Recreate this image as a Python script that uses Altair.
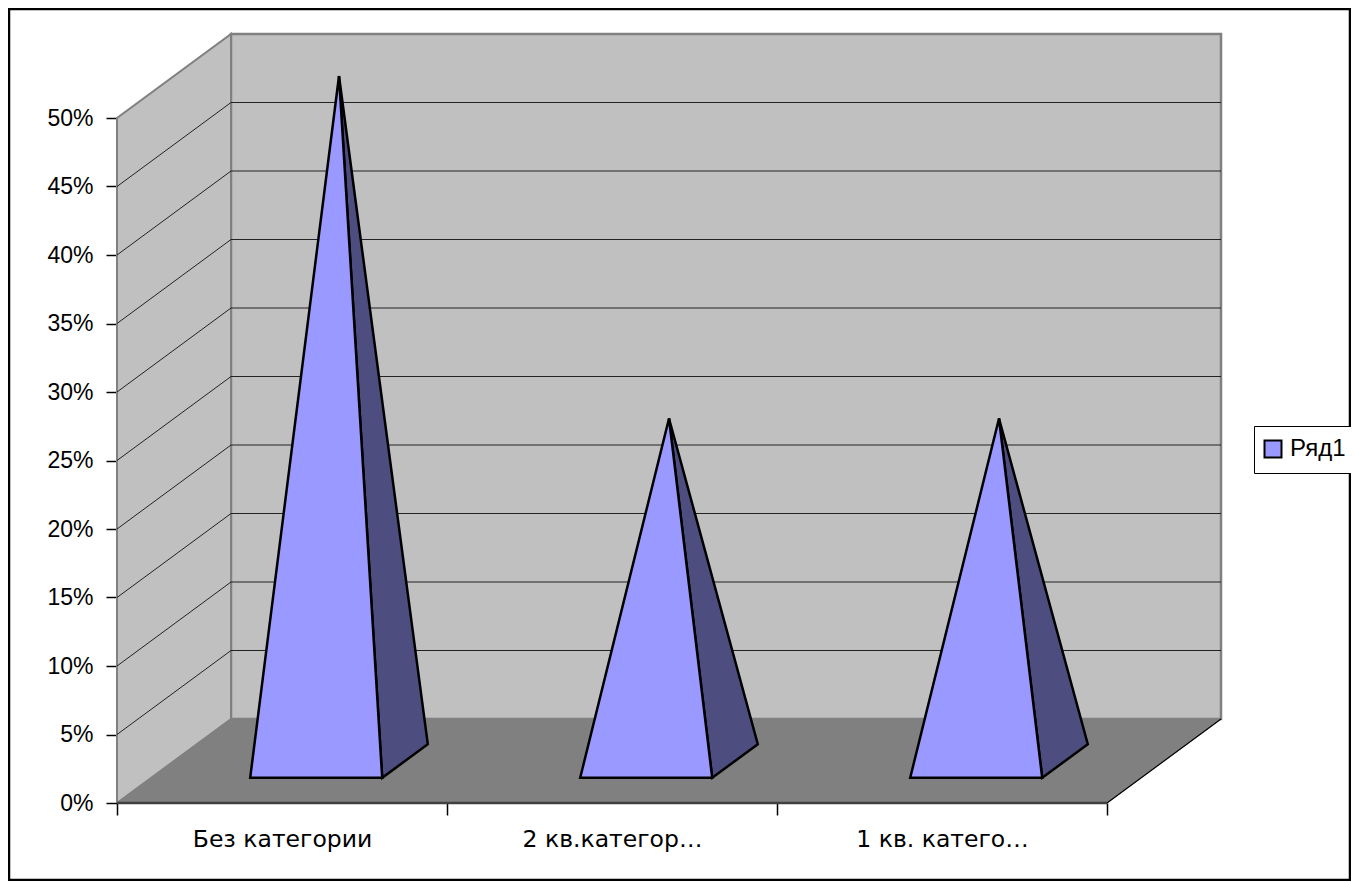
import altair as alt
import pandas as pd

categories = ["Без категории", "2 кв.категория", "1 кв. категория"]
values = [0.50, 0.25, 0.25]
series_name = "Ряд1"
y_ticks = [0.0, 0.05, 0.10, 0.15, 0.20, 0.25, 0.30, 0.35, 0.40, 0.45, 0.50]
x_ticks = [0, 1, 2, 3]

# oblique projection of the 3-D box, in axis units
DEPTH_X = 114 / 330
DEPTH_Y = 84 / 1370
BASE_HALF = 0.2
FRONT, MID, BACK = 0.3, 0.5, 0.7
W, H = 990, 685
N = len(categories)
YMAX = y_ticks[-1]
FONT = "Liberation Sans"


def proj(x, v, d):
    return x + d * DEPTH_X, v + d * DEPTH_Y


def poly(name, pts, closed=True):
    seq = list(pts) + ([pts[0]] if closed else [])
    return [{"poly": name, "o": i, "x": p[0], "y": p[1]} for i, p in enumerate(seq)]


X = alt.Scale(domain=[0, N], range=[0, W], nice=False, zero=False)
Y = alt.Scale(domain=[0, YMAX], range=[H, 0], nice=False, zero=False)

label_vals = [i + 0.5 for i in range(N)]
label_expr = " : ".join(
    f"datum.value == {lv} ? '{c}'" for lv, c in zip(label_vals, categories)
) + " : ''"

x_axis = alt.Axis(
    values=sorted(x_ticks + label_vals),
    labelExpr=label_expr,
    grid=False,
    domain=False,
    tickColor="black",
    tickSize=12,
    tickWidth=1.5,
    tickOpacity={"condition": {"test": "datum.value % 1 == 0", "value": 1}, "value": 0},
    labelFontSize=23.5,
    labelFont="DejaVu Sans",
    labelColor="black",
    labelPadding=12,
    labelFlush=False,
    labelOverlap=False,
    title=None,
)
y_axis = alt.Axis(
    values=y_ticks,
    format=".0%",
    grid=False,
    domain=False,
    tickColor="black",
    tickSize=11,
    tickWidth=1.5,
    labelFontSize=23,
    labelFont=FONT,
    labelColor="black",
    labelPadding=13,
    title=None,
)
XE = alt.X("x:Q", scale=X, axis=x_axis)
YE = alt.Y("y:Q", scale=Y, axis=y_axis)


def layer_poly(rows, fill, stroke, sw):
    return alt.Chart(pd.DataFrame(rows)).mark_line(
        fill=fill if fill else "transparent", stroke=stroke, strokeWidth=sw, clip=False, strokeJoin="miter"
    ).encode(x=XE, y=YE, order="o:Q", detail="poly:N")


back_wall = poly("back", [proj(0, 0, 1), proj(N, 0, 1), proj(N, YMAX, 1), proj(0, YMAX, 1)])
left_wall = poly("left", [proj(0, 0, 0), proj(0, 0, 1), proj(0, YMAX, 1), proj(0, YMAX, 0)])
floor = poly("floor", [proj(0, 0, 0), proj(N, 0, 0), proj(N, 0, 1), proj(0, 0, 1)])
front_edge = poly("fe", [proj(0, 0, 0), proj(N, 0, 0)], closed=False)
right_edge = poly("re", [proj(N, 0, 0), proj(N, 0, 1)], closed=False)

grid_back, grid_left = [], []
for t in y_ticks[1:-1]:
    grid_left += poly(f"g{t}", [proj(0, t, 0), proj(0, t, 1)], closed=False)
    grid_back += poly(f"g{t}", [proj(0, t, 1), proj(N, t, 1)], closed=False)

front_rows, side_rows = [], []
for i, v in enumerate(values):
    c = i + 0.5
    apex = proj(c, v, MID)
    fl = proj(c - BASE_HALF, 0, FRONT)
    fr = proj(c + BASE_HALF, 0, FRONT)
    br = proj(c + BASE_HALF, 0, BACK)
    front_rows += poly(f"f{i}", [apex, fl, fr])
    side_rows += poly(f"s{i}", [apex, fr, br])

legend_layer = (
    alt.Chart(pd.DataFrame({"x": [0.0], "y": [0.0], "s": [series_name]}))
    .mark_square(opacity=0)
    .encode(
        x=XE,
        y=YE,
        fill=alt.Fill(
            "s:N",
            title=None,
            scale=alt.Scale(domain=[series_name], range=["#9999ff"]),
            legend=alt.Legend(
                orient="none",
                legendX=1137,
                legendY=308,
                symbolType="square",
                symbolSize=289,
                symbolStrokeColor="black",
                symbolStrokeWidth=2,
                symbolOpacity=1,
                symbolOffset=-4,
                labelFontSize=24,
                labelFont=FONT,
                labelColor="black",
                labelOffset=5,
                padding=11,
                strokeColor="black",
                fillColor="white",
            ),
        ),
    )
)

frame = alt.Chart(pd.DataFrame({"a": [0]})).mark_rect(
    fill="transparent", stroke="black", strokeWidth=2.5, clip=False
).encode(x=alt.value(-108), x2=alt.value(1233), y=alt.value(-109), y2=alt.value(762))

chart = alt.layer(
    layer_poly(back_wall, "#c0c0c0", "#808080", 2.5),
    layer_poly(left_wall, "#c0c0c0", "#808080", 2),
    layer_poly(floor, "#808080", "#808080", 1),
    layer_poly(grid_back, None, "#222222", 1.2),
    layer_poly(grid_left, None, "#111111", 0.9),
    layer_poly(front_edge, None, "#404040", 2.5),
    layer_poly(right_edge, None, "#000000", 1.2),
    layer_poly(side_rows, "#4d4d80", "#000000", 2.5),
    layer_poly(front_rows, "#9999ff", "#000000", 2.5),
    legend_layer,
    frame,
).properties(
    width=W,
    height=H,
    padding={"left": 109, "top": 110, "right": 244, "bottom": 78},
    autosize=alt.AutoSizeParams(type="none"),
    background="white",
).configure_view(stroke=None)

chart.save("out.html", embed_options={"renderer": "svg", "actions": False})
